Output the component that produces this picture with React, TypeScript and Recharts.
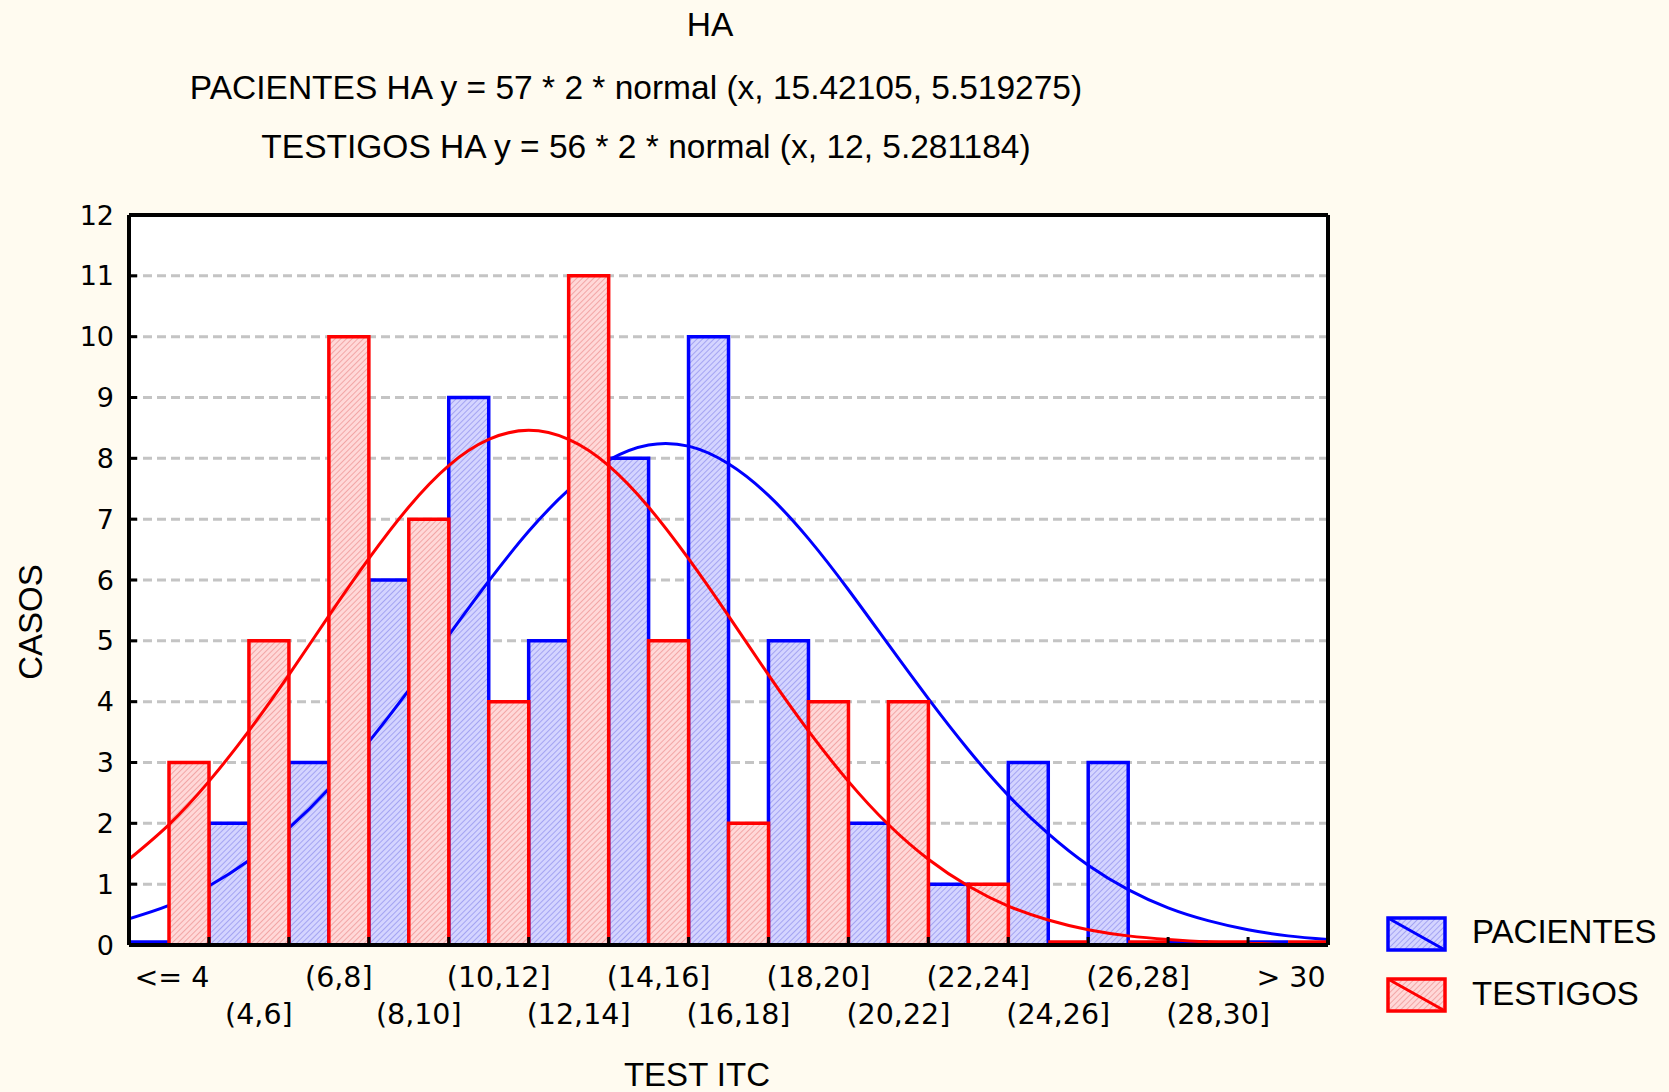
import { Bar, CartesianGrid, ComposedChart, Line, XAxis, YAxis } from 'recharts'

// histogram bins (width 2) of TEST ITC
const binLabels = ['<= 4', '(4,6]', '(6,8]', '(8,10]', '(10,12]', '(12,14]', '(14,16]', '(16,18]', '(18,20]', '(20,22]', '(22,24]', '(24,26]', '(26,28]', '(28,30]', '> 30']
const pacientes = [0, 2, 3, 6, 9, 5, 8, 10, 5, 2, 1, 3, 3, 0, 0]
const testigos = [3, 5, 10, 7, 4, 11, 5, 2, 4, 4, 1, 0, 0, 0, 0]

// fitted normal curves, read at every unit of x from 2 to 32
const curveX = [2, 3, 4, 5, 6, 7, 8, 9, 10, 11, 12, 13, 14, 15, 16, 17, 18, 19, 20, 21, 22, 23, 24, 25, 26, 27, 28, 29, 30, 31, 32]
const pacientesCurve = [0.43, 0.65, 0.97, 1.39, 1.92, 2.57, 3.34, 4.19, 5.09, 5.98, 6.8, 7.48, 7.97, 8.22, 8.2, 7.91, 7.39, 6.68, 5.84, 4.94, 4.05, 3.21, 2.46, 1.83, 1.31, 0.91, 0.61, 0.4, 0.25, 0.15, 0.09]
const testigosCurve = [1.41, 1.98, 2.69, 3.52, 4.44, 5.41, 6.35, 7.2, 7.88, 8.31, 8.46, 8.31, 7.88, 7.2, 6.35, 5.41, 4.44, 3.52, 2.69, 1.98, 1.41, 0.97, 0.64, 0.41, 0.25, 0.15, 0.09, 0.05, 0.03, 0.01, 0.01]

const yTicks = [0, 1, 2, 3, 4, 5, 6, 7, 8, 9, 10, 11, 12]
const binEdges = [4, 6, 8, 10, 12, 14, 16, 18, 20, 22, 24, 26, 28, 30]

const rows = binLabels.map((label, i) => ({ label, pacientes: pacientes[i], testigos: testigos[i] }))
const pacRows = curveX.map((x, i) => ({ x, y: pacientesCurve[i] }))
const tesRows = curveX.map((x, i) => ({ x, y: testigosCurve[i] }))

const BG = '#fffbf0'
const SANS = '"Liberation Sans", Arial, sans-serif'
const TICK_FONT = '"DejaVu Sans", Verdana, sans-serif'

// path instead of rect so that empty bins still show as a line just above the axis
const HistBar = (props: any) => {
    const { x, y, width, height, fill, stroke } = props
    if (x == null || y == null || width == null) return null
    const h = Math.max(0, height || 0)
    if (h < 0.5) {
        return <line x1={x} x2={x + width} y1={y - 3} y2={y - 3} stroke={stroke} strokeWidth={3.5} />
    }
    const d = `M${x},${y} h${width} v${h} h${-width} Z`
    return <path d={d} fill={fill} stroke={stroke} strokeWidth={3.5} />
}

const BinTick = (props: any) => {
    const { x, y, payload, index } = props
    const half = payload?.offset ?? 40
    const last = index === binLabels.length - 1
    const label = String(payload.value)
    const shift = label.startsWith('(') ? 10 : 3
    return (
        <g>
            {!last && <line x1={x + half} x2={x + half} y1={y} y2={y - 8} stroke="#000" strokeWidth={3} />}
            <text
                x={x + shift}
                y={y + (index % 2 === 0 ? 32 : 69)}
                textAnchor="middle"
                dominantBaseline="central"
                fontSize={28.5}
                fontFamily={TICK_FONT}
                fill="#000"
            >
                {label}
            </text>
        </g>
    )
}

function Patterns({ suffix }: { suffix: string }) {
    return (
        <defs>
            <pattern id={'hatchBlue' + suffix} width="4" height="4" patternUnits="userSpaceOnUse" patternTransform="rotate(45)">
                <rect width="4" height="4" fill="#d4d4ff" />
                <line x1="0" y1="0" x2="0" y2="4" stroke="#a4a4f2" strokeWidth="2" />
            </pattern>
            <pattern id={'hatchRed' + suffix} width="4" height="4" patternUnits="userSpaceOnUse" patternTransform="rotate(45)">
                <rect width="4" height="4" fill="#ffd8d8" />
                <line x1="0" y1="0" x2="0" y2="4" stroke="#f2a6a6" strokeWidth="2" />
            </pattern>
        </defs>
    )
}

export default function App() {
    return (
        <div style={{ position: 'absolute', left: 0, top: 0, width: 1669, height: 1092, background: BG, overflow: 'hidden' }}>
            <ComposedChart
                width={1669}
                height={1092}
                data={rows}
                margin={{ top: 214, right: 340, bottom: 87, left: 69 }}
                barCategoryGap={0}
                barGap={0}
            >
                <Patterns suffix="" />
                <CartesianGrid
                    xAxisId="cat"
                    yAxisId="left"
                    vertical={false}
                    fill="#ffffff"
                    stroke="#c4c4c4"
                    strokeWidth={3}
                    strokeDasharray="9 5"
                />
                <Bar
                    xAxisId="cat"
                    yAxisId="left"
                    dataKey="pacientes"
                    name="PACIENTES"
                    fill="url(#hatchBlue)"
                    stroke="#0000ff"
                    shape={HistBar}
                    isAnimationActive={false}
                    zIndex={300}
                />
                <Line
                    xAxisId="num"
                    yAxisId="left"
                    data={pacRows}
                    dataKey="y"
                    type="natural"
                    stroke="#0000ff"
                    strokeWidth={3}
                    dot={false}
                    activeDot={false}
                    legendType="none"
                    isAnimationActive={false}
                    zIndex={301}
                />
                <Bar
                    xAxisId="cat"
                    yAxisId="left"
                    dataKey="testigos"
                    name="TESTIGOS"
                    fill="url(#hatchRed)"
                    stroke="#ff0000"
                    shape={HistBar}
                    isAnimationActive={false}
                    zIndex={302}
                />
                <Line
                    xAxisId="num"
                    yAxisId="left"
                    data={tesRows}
                    dataKey="y"
                    type="natural"
                    stroke="#ff0000"
                    strokeWidth={3}
                    dot={false}
                    activeDot={false}
                    legendType="none"
                    isAnimationActive={false}
                    zIndex={303}
                />
                <XAxis
                    xAxisId="cat"
                    dataKey="label"
                    height={60}
                    interval={0}
                    tickSize={0}
                    tickMargin={0}
                    tickLine={false}
                    axisLine={{ stroke: '#000', strokeWidth: 4 }}
                    tick={<BinTick />}
                />
                <XAxis
                    xAxisId="num"
                    orientation="top"
                    type="number"
                    dataKey="x"
                    domain={[2, 32]}
                    allowDataOverflow
                    ticks={binEdges}
                    height={1}
                    tickSize={-8}
                    tick={false}
                    tickLine={{ stroke: '#000', strokeWidth: 3 }}
                    axisLine={{ stroke: '#000', strokeWidth: 4 }}
                />
                <YAxis
                    yAxisId="left"
                    domain={[0, 12]}
                    ticks={yTicks}
                    interval={0}
                    width={60}
                    tickSize={-8}
                    tickMargin={23}
                    tickLine={{ stroke: '#000', strokeWidth: 3 }}
                    axisLine={{ stroke: '#000', strokeWidth: 4 }}
                    tick={{ fill: '#000', fontSize: 27, fontFamily: TICK_FONT }}
                />
                <YAxis
                    yAxisId="right"
                    orientation="right"
                    domain={[0, 12]}
                    ticks={yTicks}
                    interval={0}
                    width={1}
                    tickSize={-8}
                    tick={false}
                    tickLine={{ stroke: '#000', strokeWidth: 3 }}
                    axisLine={{ stroke: '#000', strokeWidth: 4 }}
                />
            </ComposedChart>

            <svg width={1669} height={1092} style={{ position: 'absolute', left: 0, top: 0, pointerEvents: 'none' }}>
                <Patterns suffix="L" />
                <g fontFamily={SANS} fontSize={33.5} fill="#000" textAnchor="middle">
                    <text x={710} y={36}>HA</text>
                    <text x={636} y={99}>PACIENTES HA y = 57 * 2 * normal (x, 15.42105, 5.519275)</text>
                    <text x={646} y={158}>TESTIGOS HA y = 56 * 2 * normal (x, 12, 5.281184)</text>
                    <text x={697} y={1086} fontSize={33}>TEST ITC</text>
                    <text x={42} y={622} fontSize={33} transform="rotate(-90 42 622)">CASOS</text>
                </g>
                <g>
                    <rect x={1388} y={918} width={57} height={32} fill="url(#hatchBlueL)" stroke="#0000ff" strokeWidth={3.5} />
                    <line x1={1388} y1={918} x2={1445} y2={950} stroke="#0000ff" strokeWidth={3} />
                    <rect x={1388} y={979} width={57} height={32} fill="url(#hatchRedL)" stroke="#ff0000" strokeWidth={3.5} />
                    <line x1={1388} y1={979} x2={1445} y2={1011} stroke="#ff0000" strokeWidth={3} />
                    <text x={1472} y={943} fontFamily={SANS} fontSize={33} fill="#000">PACIENTES</text>
                    <text x={1472} y={1005} fontFamily={SANS} fontSize={33} fill="#000">TESTIGOS</text>
                </g>
            </svg>
        </div>
    )
}
